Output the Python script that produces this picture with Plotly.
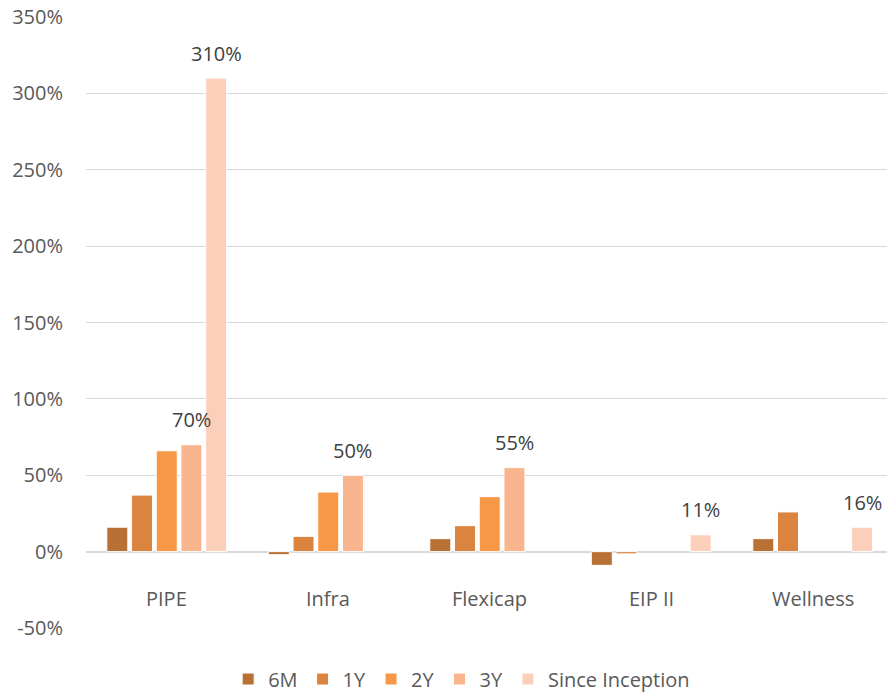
import plotly.graph_objects as go

# Fund returns by holding period (percent)
funds = ["PIPE", "Infra", "Flexicap", "EIP II", "Wellness"]
periods = ["6M", "1Y", "2Y", "3Y", "Since Inception"]
ret_6m = [16, -2, 8.5, -9, 8.5]
ret_1y = [37, 10, 17, -1.5, 26]
ret_2y = [66, 39, 36, None, None]
ret_3y = [70, 50, 55, None, None]
ret_since_inception = [310, None, None, 11, 16]
series = [ret_6m, ret_1y, ret_2y, ret_3y, ret_since_inception]

colors = ["#B87035", "#DB8440", "#F79847", "#F9B68E", "#FBCFB9"]

# Which bars carry a value label: period -> funds
labelled = {
    "3Y": ["PIPE", "Infra", "Flexicap"],
    "Since Inception": ["PIPE", "EIP II", "Wellness"],
}

tick_vals = [-50, 0, 50, 100, 150, 200, 250, 300, 350]
tick_text = [f"{v}%" for v in tick_vals]

FONT = "Open Sans"
BARGAP = 0.235

fig = go.Figure()
for name, vals, col in zip(periods, series, colors):
    fig.add_trace(go.Bar(
        name=name, x=funds, y=vals,
        marker=dict(color=col, line=dict(color="white", width=1)),
        hoverinfo="skip",
    ))

# value labels placed over their bars within each group
slot = (1 - BARGAP) / len(periods)
annotations = []
for p_name, fund_list in labelled.items():
    j = periods.index(p_name)
    for f in fund_list:
        i = funds.index(f)
        v = series[j][i]
        annotations.append(dict(
            x=i - (1 - BARGAP) / 2 + (j + 0.5) * slot, xref="x",
            y=v, yref="y", yanchor="middle", yshift=25,
            text=f"{v:g}%", showarrow=False,
            font=dict(family=FONT, size=20, color="#404040"),
        ))

# category labels sit next to the zero line
for i, f in enumerate(funds):
    annotations.append(dict(
        x=i, xref="x", y=0, yref="y", yanchor="middle", yshift=-47,
        text=f, showarrow=False,
        font=dict(family=FONT, size=20, color="#595959"),
    ))

fig.update_layout(
    width=887, height=693,
    margin=dict(l=86, r=0, t=17, b=65, autoexpand=False),
    paper_bgcolor="white", plot_bgcolor="white",
    barmode="group", bargap=BARGAP, bargroupgap=0.15,
    font=dict(family=FONT, size=20, color="#595959"),
    xaxis=dict(
        range=[-0.5, 4.46], showticklabels=False, showgrid=False,
        zeroline=False, showline=False, fixedrange=True,
    ),
    yaxis=dict(
        range=[-50, 350], tickvals=tick_vals, ticktext=tick_text,
        showgrid=True, gridcolor="#D9D9D9", gridwidth=1.3,
        zeroline=True, zerolinecolor="#D9D9D9", zerolinewidth=1.5,
        showline=False, ticks="", ticklabelstandoff=22,
        tickfont=dict(family=FONT, size=20, color="#595959"),
    ),
    legend=dict(
        orientation="h", x=0.469, xanchor="center", y=-0.0835, yanchor="middle",
        font=dict(family=FONT, size=20, color="#595959"),
        itemclick=False, itemdoubleclick=False,
    ),
    annotations=annotations,
    showlegend=True,
)

fig.write_html("out.html")
